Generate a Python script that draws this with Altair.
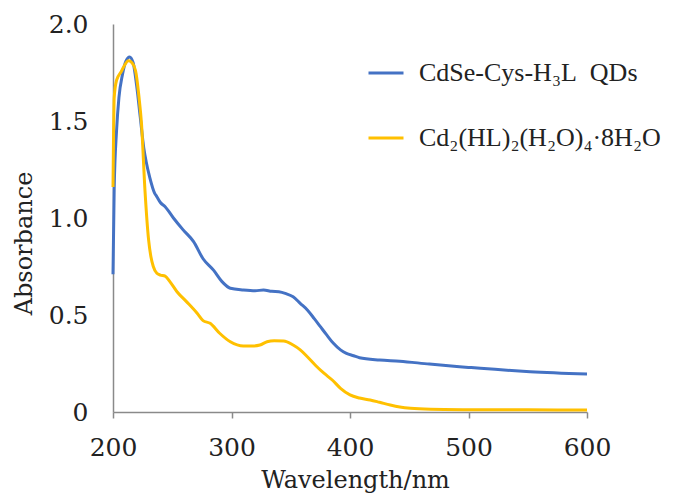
import altair as alt
import pandas as pd

label_qd = "CdSe-Cys-H₃L\u00a0\u00a0QDs"
label_cd = "Cd₂(HL)₂(H₂O)₄·8H₂O"

qd_wl = [200, 201, 203, 205, 208, 211, 214, 217, 220, 223, 226, 228, 231, 235, 237,
         240, 244, 251, 259, 268, 276, 285, 292, 299, 310, 320, 327, 334, 340, 346,
         352, 358, 364, 370, 375, 380, 386, 392, 397, 403, 408, 425, 442, 467, 500,
         510, 552, 600]
qd_abs = [0.71, 1.15, 1.45, 1.62, 1.74, 1.81, 1.83, 1.80, 1.68, 1.52, 1.36, 1.29, 1.21, 1.13, 1.11,
          1.08, 1.058, 1.0, 0.94, 0.878, 0.79, 0.73, 0.672, 0.638, 0.629, 0.625, 0.629, 0.622, 0.62, 0.61,
          0.594, 0.56, 0.526, 0.48, 0.44, 0.40, 0.354, 0.32, 0.302, 0.29, 0.28, 0.268, 0.262, 0.247, 0.23,
          0.225, 0.208, 0.196]

cd_wl = [200, 200.5, 201, 203, 207, 210, 213, 216, 219, 222, 224, 227, 230, 232, 234,
         237, 240, 244, 248, 254, 262, 271, 276, 282, 290, 299, 310, 318, 324, 330,
         336, 344, 352, 358, 364, 371, 378, 385, 392, 400, 408, 417, 425, 434, 442,
         451, 468, 500, 550, 600]
cd_abs = [1.16, 1.45, 1.62, 1.71, 1.755, 1.79, 1.81, 1.80, 1.76, 1.62, 1.49, 1.14, 0.89, 0.80, 0.75,
          0.715, 0.706, 0.70, 0.672, 0.62, 0.569, 0.509, 0.471, 0.457, 0.406, 0.362, 0.34, 0.34, 0.345, 0.362,
          0.367, 0.366, 0.345, 0.32, 0.285, 0.24, 0.2, 0.165, 0.122, 0.088, 0.072, 0.062, 0.05, 0.036, 0.026,
          0.019, 0.014, 0.012, 0.011, 0.01]

df = pd.concat([
    pd.DataFrame({"wl": qd_wl, "abs": qd_abs, "series": label_qd}),
    pd.DataFrame({"wl": cd_wl, "abs": cd_abs, "series": label_cd}),
])

axis_color = "#8a8a8a"
tick_font = "DejaVu Serif"

chart = alt.Chart(df).mark_line(strokeWidth=3, interpolate="monotone").encode(
    x=alt.X("wl:Q",
            scale=alt.Scale(domain=[200, 600], nice=False, zero=False),
            axis=alt.Axis(title="Wavelength/nm", values=[200, 300, 400, 500, 600],
                          grid=False, domainColor=axis_color, domainWidth=1.5,
                          tickColor=axis_color, tickWidth=1.5, tickSize=6,
                          labelFont=tick_font, labelFontSize=25, labelColor="#222222",
                          labelPadding=17, labelFlush=False,
                          titleFont=tick_font, titleFontSize=24, titleFontWeight="normal",
                          titleColor="#222222", titleX=242, titleY=75,
                          titleBaseline="alphabetic", titleAlign="center")),
    y=alt.Y("abs:Q",
            scale=alt.Scale(domain=[0, 2.0], nice=False),
            axis=alt.Axis(title="Absorbance", values=[0, 0.5, 1.0, 1.5, 2.0],
                          labelExpr="datum.value == 0 ? '0' : format(datum.value, '.1f')",
                          grid=False, ticks=False, domainColor=axis_color, domainWidth=1.5,
                          labelFont=tick_font, labelFontSize=25, labelColor="#222222",
                          labelPadding=25, labelFlush=False,
                          titleFont=tick_font, titleFontSize=24, titleFontWeight="normal",
                          titleColor="#222222", titleAngle=-90, titleX=-82, titleY=219,
                          titleBaseline="alphabetic", titleAlign="center")),
    color=alt.Color("series:N",
                    scale=alt.Scale(domain=[label_qd, label_cd], range=["#4472C4", "#FFC000"]),
                    legend=alt.Legend(title=None, orient="none", legendX=254, legendY=30,
                                      symbolType="stroke", symbolSize=1225, symbolStrokeWidth=3,
                                      labelFont="Liberation Serif", labelFontSize=26,
                                      labelColor="#222222", labelOffset=14, rowPadding=33,
                                      labelLimit=400)),
).properties(
    width=474, height=388,
    autosize=alt.AutoSizeParams(type="none"),
    padding={"left": 105, "top": 16, "right": 102, "bottom": 81},
).configure_view(stroke=None)

chart.save("out.html", embed_options={"renderer": "svg", "actions": False})
